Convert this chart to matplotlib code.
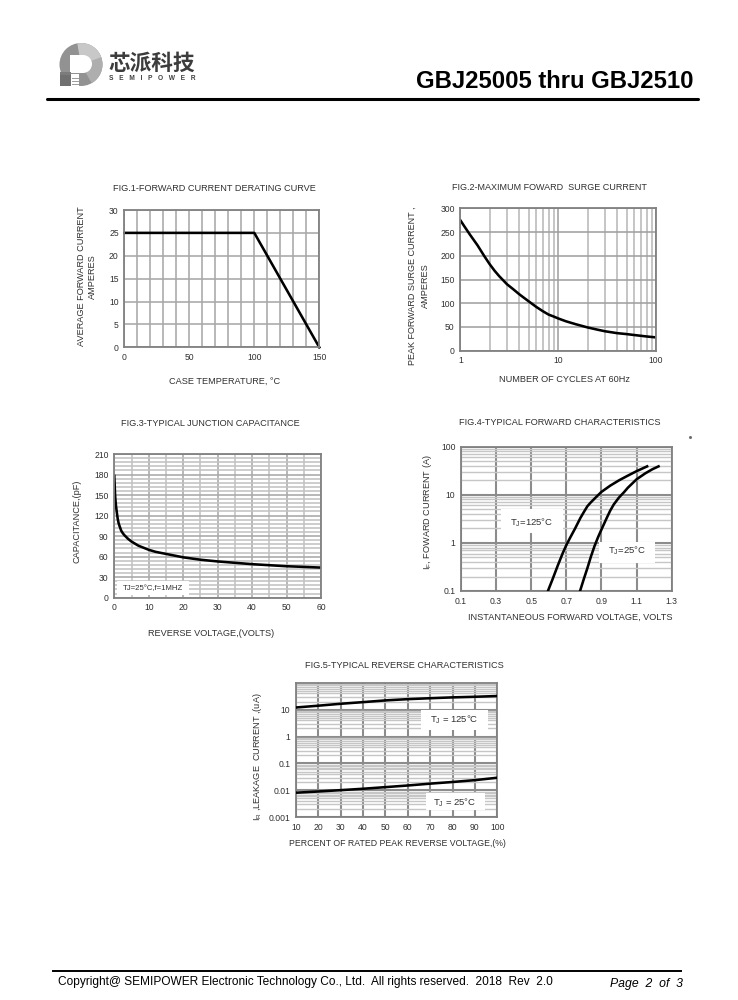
import matplotlib
matplotlib.use("Agg")
import matplotlib.pyplot as plt
from matplotlib.patches import Rectangle, Wedge, Circle

plt.rcParams['font.family'] = ['Liberation Sans', 'Noto Sans CJK SC', 'DejaVu Sans']
plt.rcParams['mathtext.default'] = 'regular'

W, H = 738, 1000
TXT = '#303030'
FS = 6.6
TICK_FS = 6.2
LW = 1.85

# Fig 1
f1_temp = [0, 100, 150]
f1_current = [25, 25, 0]
f1_xticks = [0, 50, 100, 150]
f1_yticks = [0, 5, 10, 15, 20, 25, 30]
f1_xgrid = list(range(0, 151, 10))

# Fig 2
f2_cycles = [1, 1.1, 1.25, 1.5, 1.75, 2, 2.25, 2.5, 3, 3.5, 4, 5, 6, 7, 8, 9, 10, 12, 15, 20, 25, 30, 40, 50, 60, 80, 100]
f2_surge = [275, 262, 245, 222, 200, 182, 168, 157, 140, 129, 119, 104, 92, 83, 76, 72, 68, 62, 56, 49, 44.5, 41, 37, 35, 33, 30, 28]
f2_yticks = [0, 50, 100, 150, 200, 250, 300]
f2_xticks = [1, 10, 100]
f2_xlabels = ['1', '10', '100']

# Fig 3
f3_volts = [0, 0.05, 0.1, 0.2, 0.3, 0.5, 0.75, 1, 1.25, 1.5, 2, 2.5, 3, 4, 5, 6, 7, 8, 10, 12, 15, 17, 20, 25, 30, 35, 40, 45, 50, 55, 60]
f3_cap = [178, 172, 166, 153, 145, 134, 124, 115, 109, 105, 98, 94, 91, 86, 82, 79, 76, 74, 70, 67, 64, 62, 59, 55.5, 53, 51, 49, 47.5, 46, 45, 44]
f3_xticks = [0, 10, 20, 30, 40, 50, 60]
f3_xgrid = [0, 5, 10, 15, 20, 25, 30, 35, 40, 45, 50, 55, 60]
f3_yticks = [0, 30, 60, 90, 120, 150, 180, 210]
f3_yminor = list(range(0, 211, 6))

# Fig 4
f4_v125 = [0.595, 0.62, 0.65, 0.68, 0.7, 0.72, 0.75, 0.78, 0.8, 0.82, 0.84, 0.87, 0.9, 0.95, 1.0, 1.05, 1.1, 1.16]
f4_i125 = [0.1, 0.17, 0.33, 0.62, 0.9, 1.25, 2.0, 3.3, 4.4, 5.8, 7, 9, 11.5, 15.5, 20, 25, 31, 39]
f4_v25 = [0.778, 0.80, 0.82, 0.84, 0.86, 0.88, 0.9, 0.93, 0.95, 0.97, 1.0, 1.03, 1.05, 1.1, 1.15, 1.19, 1.225]
f4_i25 = [0.1, 0.18, 0.3, 0.52, 0.85, 1.3, 1.9, 3.3, 4.7, 6.3, 8.8, 11.5, 14, 21, 28, 34, 39]
f4_xticks = [0.1, 0.3, 0.5, 0.7, 0.9, 1.1, 1.3]
f4_yticks = [0.1, 1, 10, 100]
f4_ylabels = ['0.1', '1', '10', '100']

# Fig 5
f5_pct = [10, 20, 30, 40, 50, 60, 70, 80, 90, 100]
f5_i125 = [12, 14, 16.5, 19, 22, 24.5, 26.5, 28.5, 30, 32]
f5_i25 = [0.0082, 0.0091, 0.0102, 0.0115, 0.0132, 0.0152, 0.0178, 0.0205, 0.024, 0.0295]
f5_xticks = list(range(10, 101, 10))
f5_yticks = [0.001, 0.01, 0.1, 1, 10]
f5_ylabels = ['0.001', '0.01', '0.1', '1', '10']

fig = plt.figure(figsize=(W / 100, H / 100), dpi=100, facecolor='white')


def make_ax(l, t, r, b):
    ax = fig.add_axes([l / W, 1 - b / H, (r - l) / W, (b - t) / H])
    ax.tick_params(length=0, labelsize=TICK_FS, labelcolor=TXT, pad=4)
    for s in ax.spines.values():
        s.set_color('#808080')
        s.set_linewidth(1.3)
    ax.set_axisbelow(True)
    return ax


def log_minor(lo, hi):
    vals = []
    d = lo
    while d < hi:
        vals += [d * k for k in range(2, 10)]
        d *= 10
    return vals


# ---- Fig 1
ax = make_ax(124.3, 210, 319.3, 347.3)
ax.set_xlim(0, 150); ax.set_ylim(0, 30)
ax.set_xticks(f1_xticks); ax.set_yticks(f1_yticks)
ax.set_xticks(f1_xgrid, minor=True)
ax.tick_params(which='minor', length=0)
ax.grid(True, which='both', color='#a8a8a8', lw=1.15)
ax.plot(f1_temp, f1_current, color='black', lw=LW, clip_on=False)

# ---- Fig 2
ax = make_ax(460.3, 208.3, 656, 350.7)
ax.set_xscale('log'); ax.set_xlim(1, 100); ax.set_ylim(0, 300)
ax.set_xticks(f2_xticks, f2_xlabels); ax.set_yticks(f2_yticks)
ax.set_xticks(log_minor(1, 100), minor=True)
ax.set_xticklabels([], minor=True)
ax.tick_params(which='minor', length=0)
ax.grid(True, which='minor', axis='x', color='#b8b8b8', lw=1.15)
ax.grid(True, which='major', color='#a0a0a0', lw=1.15)
ax.plot(f2_cycles, f2_surge, color='black', lw=LW)

# ---- Fig 3
ax = make_ax(114.3, 454, 321, 597.7)
ax.set_xlim(0, 60); ax.set_ylim(0, 210)
ax.set_xticks(f3_xticks); ax.set_yticks(f3_yticks)
ax.set_xticks(f3_xgrid, minor=True)
ax.set_yticks(f3_yminor, minor=True)
ax.tick_params(which='minor', length=0)
ax.grid(True, which='minor', color='#c2c2c2', lw=1.15)
ax.grid(True, which='major', color='#ababab', lw=1.2)
ax.plot(f3_volts, f3_cap, color='black', lw=LW)

# ---- Fig 4
ax = make_ax(461, 446.7, 671.7, 591)
ax.set_yscale('log'); ax.set_xlim(0.1, 1.3); ax.set_ylim(0.1, 100)
ax.set_xticks(f4_xticks, [f'{v:g}' for v in f4_xticks])
ax.set_yticks(f4_yticks, f4_ylabels)
ax.set_yticks(log_minor(0.1, 100), minor=True)
ax.set_yticklabels([], minor=True)
ax.tick_params(which='minor', length=0)
ax.grid(True, which='minor', axis='y', color='#c6c6c6', lw=1.0)
ax.grid(True, which='major', color='#8c8c8c', lw=1.5)
ax.plot(f4_v125, f4_i125, color='black', lw=LW, zorder=5)
ax.plot(f4_v25, f4_i25, color='black', lw=LW, zorder=5)

# ---- Fig 5
ax = make_ax(296, 682.7, 497.3, 817.3)
ax.set_yscale('log'); ax.set_xlim(10, 100); ax.set_ylim(0.001, 100)
ax.set_xticks(f5_xticks); ax.set_yticks(f5_yticks, f5_ylabels)
ax.set_yticks(log_minor(0.001, 100), minor=True)
ax.set_yticklabels([], minor=True)
ax.tick_params(which='minor', length=0)
ax.grid(True, which='minor', axis='y', color='#c6c6c6', lw=1.0)
ax.grid(True, which='major', color='#8c8c8c', lw=1.5)
ax.plot(f5_pct, f5_i125, color='black', lw=LW, zorder=5)
ax.plot(f5_pct, f5_i25, color='black', lw=LW, zorder=5)

# ---- Page overlay in pixel coordinates
ov = fig.add_axes([0, 0, 1, 1], zorder=10)
ov.set_xlim(0, W); ov.set_ylim(H, 0); ov.axis('off'); ov.patch.set_alpha(0)


def t(x, y, s, ha='center', va='center', fs=FS, rot=0, **kw):
    kw.setdefault('color', TXT)
    ov.text(x, y, s, ha=ha, va=va, fontsize=fs, rotation=rot, **kw)


def box(l, t_, r, b):
    ov.add_patch(Rectangle((l, t_), r - l, b - t_, fc='white', ec='none', zorder=1))


# chart titles and axis labels
t(214.5, 188.3, 'FIG.1-FORWARD CURRENT DERATING CURVE')
t(225, 381, 'CASE TEMPERATURE, °C')
t(81.7, 276.5, 'AVERAGE FORWARD CURRENT', rot=90)
t(92.3, 276.5, 'AMPERES', rot=90)

t(549.3, 187.7, 'FIG.2-MAXIMUM FOWARD  SURGE CURRENT', fs=6.5)
t(564, 380, 'NUMBER OF CYCLES AT 60Hz')
t(412.7, 286, 'PEAK FORWARD SURGE CURRENT ,', rot=90, fs=6.5)
t(425, 285.7, 'AMPERES', rot=90)

t(210.2, 423.3, 'FIG.3-TYPICAL JUNCTION CAPACITANCE', fs=6.55)
t(211, 633, 'REVERSE VOLTAGE,(VOLTS)')
t(76.7, 521.6, 'CAPACITANCE,(pF)', rot=90)

t(559.5, 422.3, 'FIG.4-TYPICAL FORWARD CHARACTERISTICS', fs=6.55)
t(570, 617, 'INSTANTANEOUS FORWARD VOLTAGE, VOLTS')
t(427, 512, 'I$_F$, FOWARD CURRENT (A)', rot=90, fs=6.6)

t(404.7, 666, 'FIG.5-TYPICAL REVERSE CHARACTERISTICS', fs=6.55)
t(397, 844, 'PERCENT OF RATED PEAK REVERSE VOLTAGE,(%)', fs=6.3)
t(257, 756.5, 'I$_R$ ,LEAKAGE  CURRENT ,(uA)', rot=90, fs=6.6)

# annotation boxes
box(117, 581, 189, 595)
t(153, 589, 'TJ=25°C,f=1MHZ', fs=5.6, zorder=3)
box(501, 509, 563, 533)
t(532, 523, 'T$_J$=125°C', zorder=3, fs=6.8)
box(599, 542, 655, 563)
t(627, 551, 'T$_J$=25°C', zorder=3, fs=6.8)
box(421, 710, 488, 730)
t(454.5, 720, 'T$_J$ = 125°C', zorder=3, fs=6.8)
box(426, 793, 485, 810)
t(455, 803, 'T$_J$ = 25°C', zorder=3, fs=6.8)

# header
t(694, 81, 'GBJ25005 thru GBJ2510', ha='right', fs=17.2, weight='bold', color='black')
ov.plot([47, 698], [98.5, 98.5], color='black', lw=2.2, solid_capstyle='round')
ov.plot([690], [436.5], marker='s', ms=1.0, color='#666666')

# logo
ov.add_patch(Circle((81, 64.5), 21.5, fc='#929292', ec='none', zorder=1))
ov.add_patch(Wedge((81, 64.5), 21.5, -70, 60, fc='#aeaeae', ec='none', zorder=1.1))
ov.add_patch(Wedge((81, 64.5), 21.5, -100, -20, fc='#c8c8c8', ec='none', zorder=1.2))
ov.add_patch(Rectangle((58, 74), 13, 14, fc='white', ec='none', zorder=1.3))
ov.add_patch(Rectangle((71, 74), 8, 14, fc='white', ec='none', zorder=1.3))
ov.add_patch(Rectangle((59.5, 75), 11.5, 11, fc='#707070', ec='none', zorder=1.4))
ov.add_patch(Rectangle((70, 55), 13, 18, fc='white', ec='none', zorder=1.5))
ov.add_patch(Wedge((83, 64), 9, -90, 90, fc='white', ec='none', zorder=1.5))
ov.add_patch(Rectangle((59.5, 72), 11, 2.5, fc='#7c7c7c', ec='none', zorder=1.6))
for yy in (78, 81, 84):
    ov.plot([72, 78], [yy, yy], color='#9a9a9a', lw=0.7, zorder=1.7)
t(152, 63, '芯派科技', fs=15.6, color='#3c3c3c', weight='bold', family=['Noto Sans CJK SC', 'DejaVu Sans'])
t(152, 79, 'S   E   M   I   P   O   W   E   R', fs=4.8, weight='bold', color='#404040')

# footer
ov.plot([53, 681], [971, 971], color='black', lw=1.4)
t(58, 981.7, 'Copyright@ SEMIPOWER Electronic Technology Co., Ltd.  All rights reserved.  2018  Rev  2.0', ha='left', fs=8.55, color='black')
t(682.5, 984, 'Page  2  of  3', ha='right', fs=8.8, style='italic', color='black')

fig.savefig('out.png', dpi=100, facecolor='white')
